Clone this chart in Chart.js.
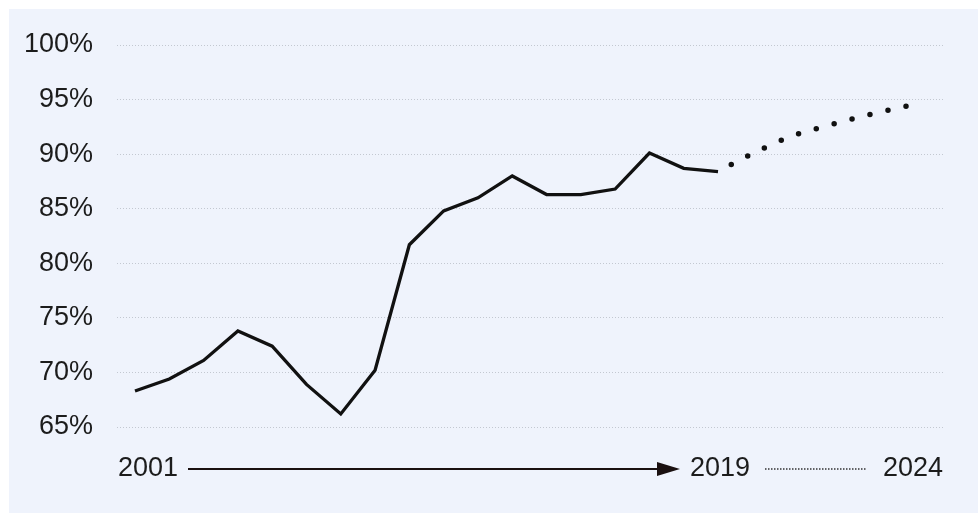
<!DOCTYPE html>
<html>
<head>
<meta charset="utf-8">
<script src="https://cdn.jsdelivr.net/npm/chart.js@4/dist/chart.umd.min.js"></script>
<style>
  html, body { margin: 0; padding: 0; background: #ffffff; }
  #wrap { position: relative; width: 978px; height: 513px; }
</style>
</head>
<body>
<div id="wrap"><canvas id="chart"></canvas></div>
<script>
// yearly rate, actual
const years = [2001, 2002, 2003, 2004, 2005, 2006, 2007, 2008, 2009,
               2010, 2011, 2012, 2013, 2014, 2015, 2016, 2017, 2018];
const rates = [68.3, 69.4, 71.1, 73.8, 72.4, 68.9, 66.2, 70.2, 81.7,
               84.8, 86.0, 88.0, 86.3, 86.3, 86.8, 90.1, 88.7, 88.4];

// projected path
const projYears = [2018, 2019.1, 2020.2, 2021.3, 2022.4, 2023.5];
const projRates = [88.4, 90.2, 91.7, 92.7, 93.6, 94.4];

const yTicks = [65, 70, 75, 80, 85, 90, 95, 100];
const timeline = ["2001", "2019", "2024"];

const FONT = "Liberation Sans, Arial, Helvetica, sans-serif";
const INK = "#1c1c1c";

const panel = {
  id: "panel",
  beforeDraw(chart) {
    const ctx = chart.ctx;
    ctx.save();
    ctx.fillStyle = "#eff3fc";
    ctx.fillRect(9, 9, chart.width - 9, chart.height - 9);
    ctx.restore();
  }
};

// bottom timeline: 2001 ——▶ 2019 ······ 2024
const timelineRow = {
  id: "timelineRow",
  afterDraw(chart) {
    const ctx = chart.ctx;
    const a = chart.chartArea;
    const y = a.bottom + 42;
    ctx.save();
    ctx.font = "27px " + FONT;
    ctx.fillStyle = INK;
    ctx.textBaseline = "middle";

    ctx.textAlign = "left";
    ctx.fillText(timeline[0], a.left + 1, y);
    ctx.fillText(timeline[1], a.left + 573, y);
    ctx.textAlign = "right";
    ctx.fillText(timeline[2], a.right, y);

    // arrow
    ctx.strokeStyle = "#1a1010";
    ctx.lineWidth = 2;
    ctx.beginPath();
    ctx.moveTo(a.left + 71, y);
    ctx.lineTo(a.left + 545, y);
    ctx.stroke();
    ctx.fillStyle = "#1a1010";
    ctx.beginPath();
    ctx.moveTo(a.left + 540, y - 7);
    ctx.lineTo(a.left + 563, y);
    ctx.lineTo(a.left + 540, y + 7);
    ctx.closePath();
    ctx.fill();

    // dotted link
    ctx.strokeStyle = "#333333";
    ctx.lineWidth = 1.5;
    ctx.setLineDash([1.5, 1.5]);
    ctx.beginPath();
    ctx.moveTo(a.left + 648, y);
    ctx.lineTo(a.left + 750, y);
    ctx.stroke();
    ctx.restore();
  }
};

new Chart(document.getElementById("chart"), {
  type: "line",
  data: {
    datasets: [
      {
        data: years.map((x, i) => ({ x: x, y: rates[i] })),
        borderColor: "#111111",
        borderWidth: 3.3,
        pointRadius: 0,
        tension: 0
      },
      {
        data: projYears.map((x, i) => ({ x: x, y: projRates[i] })),
        borderColor: "#111111",
        borderWidth: 5.5,
        borderCapStyle: "round",
        borderDash: [0, 18.5],
        borderDashOffset: 3.5,
        cubicInterpolationMode: "monotone",
        pointRadius: 0
      }
    ]
  },
  options: {
    responsive: true,
    maintainAspectRatio: false,
    animation: false,
    layout: { padding: { left: 0, right: 35, top: 45, bottom: 86 } },
    plugins: {
      legend: { display: false },
      tooltip: { enabled: false }
    },
    scales: {
      x: {
        type: "linear",
        display: false,
        min: 2000.475,
        max: 2024.56
      },
      y: {
        min: 65,
        max: 100,
        afterBuildTicks(scale) {
          scale.ticks = yTicks.map(v => ({ value: v }));
        },
        afterFit(scale) { scale.width = 117; },
        grid: { color: "#c3c8d1", lineWidth: 1, drawTicks: false },
        border: { display: false, dash: [1, 2] },
        ticks: {
          padding: 24,
          color: INK,
          font: { family: FONT, size: 27 },
          callback: v => v + "%"
        }
      }
    }
  },
  plugins: [panel, timelineRow]
});
</script>
</body>
</html>
